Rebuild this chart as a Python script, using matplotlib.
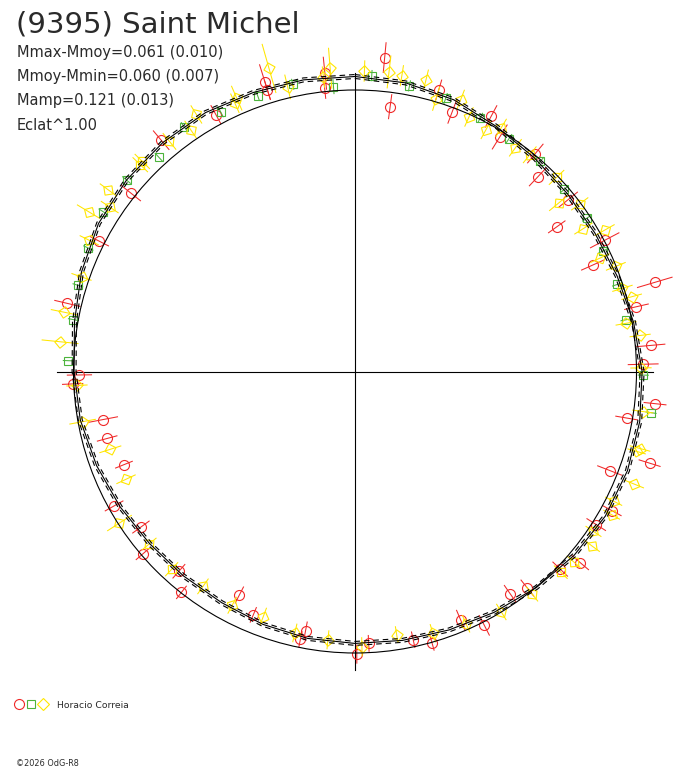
import numpy as np
import matplotlib
matplotlib.use('Agg')
from matplotlib import pyplot as plt
from matplotlib.lines import Line2D
from matplotlib.patches import Circle
from matplotlib.legend_handler import HandlerTuple

title = "(9395) Saint Michel"
stats_lines = ["Mmax-Mmoy=0.061 (0.010)", "Mmoy-Mmin=0.060 (0.007)",
               "Mamp=0.121 (0.013)", "Eclat^1.00"]
observer = "Horacio Correia"
credit = "©2026 OdG-R8"

# fitted curve, relative flux every 10 degrees of phase (starts at the top, clockwise)
fit_phase = np.arange(36) / 36.0
fit_flux = [1.048, 1.041, 1.027, 1.005, 0.991, 0.984, 0.984, 0.991, 1.005, 1.020,
            1.027, 1.030, 1.027, 1.016, 1.002, 0.988, 0.977, 0.970, 0.966, 0.963,
            0.956, 0.948, 0.948, 0.952, 0.963, 0.977, 0.991, 0.998, 1.012, 1.034,
            1.052, 1.059, 1.062, 1.062, 1.055, 1.052]
fit_sigma = 0.007

# session 1 (red circles)
red_phase = [.921, .952, .952, .984, .983, .015, .021, .046, .057, .078,
             .088, .110, .120, .142, .151, .173, .183, .204, .214, .236,
             .246, .267, .277, .298, .309, .329, .340, .362, .372, .393,
             .403, .425, .436, .456, .466, .492, .499, .532, .530, .563,
             .576, .606, .615, .637, .650, .669, .689, .708, .720, .743,
             .748, .787, .825, .857, .889]
red_flux = [1.038, 1.077, 1.048, 1.065, 1.012, 1.120, 0.949, 1.044, 0.985, 1.027,
            0.979, 1.005, 0.948, 0.972, 0.882, 1.002, 0.925, 1.111, 1.026, 1.055,
            1.024, 1.072, 0.979, 1.096, 0.971, 1.039, 1.015, 1.049, 1.012, 0.983,
            0.963, 1.012, 0.961, 1.001, 0.975, 0.967, 1.004, 0.971, 0.938, 0.937,
            0.894, 0.998, 0.946, 0.993, 0.940, 0.980, 0.885, 0.912, 0.912, 1.004,
            0.979, 1.050, 1.019, 1.017, 1.072]
red_err = [.036, .064, .036, .057, .036, .053, .043, .036, .043, .043,
           .050, .043, .043, .043, .036, .057, .043, .064, .043, .050,
           .053, .039, .039, .039, .046, .036, .039, .039, .036, .036,
           .036, .039, .039, .028, .028, .028, .032, .028, .032, .028,
           .032, .028, .032, .032, .036, .036, .032, .036, .053, .036,
           .043, .046, .036, .043, .043]

# session 2 (green squares)
green_phase = [.924, .946, .966, .988, .009, .030, .051, .073, .093, .115,
               .136, .157, .178, .199, .220, .252, .272, .756, .779, .798,
               .819, .840, .861, .882, .903]
green_flux = [1.039, 1.039, 1.044, 1.015, 1.053, 1.033, 1.022, 1.005, 0.991, 0.995,
              0.986, 0.987, 0.978, 0.982, 0.980, 1.024, 1.062, 1.019, 1.017, 1.031,
              1.044, 1.059, 1.059, 1.033, 1.060]
green_err = [.020, .018, .018, .025, .018, .018, .018, .018, .018, .018,
             .018, .018, .018, .018, .018, .018, .018, .018, .018, .018,
             .018, .018, .018, .018, .018]

# session 3 (yellow diamonds)
yellow_phase = [.912, .935, .933, .956, .963, .987, .983, .005, .018, .025,
                .038, .046, .059, .067, .079, .086, .099, .108, .128, .140,
                .148, .161, .168, .181, .189, .202, .208, .222, .230, .248,
                .272, .292, .294, .311, .324, .331, .344, .351, .364, .373,
                .393, .413, .434, .454, .475, .496, .516, .536, .557, .577,
                .598, .619, .639, .659, .680, .701, .721, .742, .766, .782,
                .803, .823, .836, .844, .851, .872, .874, .892, .905]
yellow_flux = [1.073, 1.058, 1.044, 1.119, 1.039, 1.081, 1.052, 1.068, 1.071, 1.064,
               1.066, 1.011, 1.036, 0.991, 0.977, 1.009, 0.978, 0.989, 0.994, 0.940,
               0.996, 0.957, 1.019, 0.959, 0.999, 0.995, 1.018, 0.978, 1.021, 1.016,
               1.032, 1.049, 1.040, 1.069, 1.028, 1.044, 1.020, 1.046, 1.031, 1.021,
               1.010, 1.000, 0.979, 0.970, 0.946, 0.978, 0.958, 0.953, 0.930, 0.938,
               0.935, 0.958, 0.954, 0.995, 0.899, 0.912, 0.984, 0.989, 1.053, 1.055,
               1.028, 1.053, 1.104, 1.049, 1.088, 1.059, 1.062, 1.050, 1.039]
yellow_err = [.036, .046, .036, .089, .043, .071, .036, .036, .057, .036,
              .036, .043, .036, .036, .036, .036, .036, .036, .036, .043,
              .036, .036, .039, .036, .036, .036, .036, .036, .036, .036,
              .036, .036, .032, .036, .032, .032, .032, .032, .032, .032,
              .032, .032, .032, .032, .028, .032, .032, .032, .032, .032,
              .032, .032, .032, .050, .036, .039, .046, .036, .064, .046,
              .036, .036, .046, .036, .036, .036, .036, .036, .036]

RED = '#f02828'
GREEN = '#4cb43c'
YELLOW = '#ffe600'
TXT = '#2a2a2a'
W, H = 688, 768
CX, CY, R0 = 355, 371.5, 281.5   # centre and unit radius in pixels


def polar_xy(phase, flux):
    t = 2 * np.pi * np.asarray(phase)
    f = np.asarray(flux)
    return f * np.sin(t), f * np.cos(t)


def draw_session(ax, phase, flux, err, color, marker, size):
    for p, f, e in zip(phase, flux, err):
        xs, ys = polar_xy([p, p], [f - e, f + e])
        ax.plot(xs, ys, color=color, lw=0.75, zorder=2)
        x, y = polar_xy(p, f)
        m = (4, 0, -360 * p) if marker == 'D' else marker
        ax.plot(x, y, marker=m, ms=size, mfc='none', mec=color, mew=0.8,
                ls='none', zorder=2)


fig = plt.figure(figsize=(W / 100, H / 100), dpi=100, facecolor='white')
ax = fig.add_axes([0, 0, 1, 1])
ax.set_xlim(-CX / R0, (W - CX) / R0)
ax.set_ylim(-(H - CY) / R0, CY / R0)
ax.axis('off')

# axes cross and reference circle
ext = 1.06
ax.plot([-ext, ext], [0, 0], color='black', lw=0.8, zorder=1)
ax.plot([0, 0], [-ext, ext], color='black', lw=0.8, zorder=1)
ax.add_patch(Circle((0, 0), 1.0, fill=False, ec='black', lw=0.8, zorder=3))

draw_session(ax, red_phase, red_flux, red_err, RED, 'o', 7.2)
draw_session(ax, green_phase, green_flux, green_err, GREEN, 's', 5.8)
draw_session(ax, yellow_phase, yellow_flux, yellow_err, YELLOW, 'D', 8.3)

# fitted curve with its uncertainty band
fp = np.append(fit_phase, 1.0)
ff = np.append(fit_flux, fit_flux[0])
x, y = polar_xy(fp, ff)
ax.plot(x, y, color='black', lw=0.8, zorder=3)
for s in (-fit_sigma, fit_sigma):
    x, y = polar_xy(fp, ff + s)
    ax.plot(x, y, color='black', lw=0.8, dashes=(5, 3.5), zorder=3)

# texts
fig.text(16.5 / W, 1 - 32 / H, title, fontsize=21, color=TXT,
         family='DejaVu Sans', va='baseline')
for i, line in enumerate(stats_lines):
    fig.text(17 / W, 1 - (56.5 + 24.5 * i) / H, line, fontsize=10.5,
             color=TXT, family='DejaVu Sans', va='baseline')

handles = (Line2D([], [], marker='o', ms=7.2, mfc='none', mec=RED, mew=0.8, ls='none'),
           Line2D([], [], marker='s', ms=5.8, mfc='none', mec=GREEN, mew=0.8, ls='none'),
           Line2D([], [], marker='D', ms=5.9, mfc='none', mec=YELLOW, mew=0.8, ls='none'))
fig.legend([handles], [observer], handler_map={tuple: HandlerTuple(ndivide=None, pad=0)},
           loc='center left', bbox_to_anchor=(13 / W, 1 - 705 / H), frameon=False,
           borderpad=0, borderaxespad=0, handlelength=3.9, handletextpad=0.8,
           prop={'family': 'DejaVu Sans', 'size': 6.7}, labelcolor=TXT)

fig.text(16 / W, 1 - 766 / H, credit, fontsize=5.9, color=TXT,
         family='DejaVu Sans', va='baseline')

fig.savefig('out.png', dpi=100, facecolor='white')
